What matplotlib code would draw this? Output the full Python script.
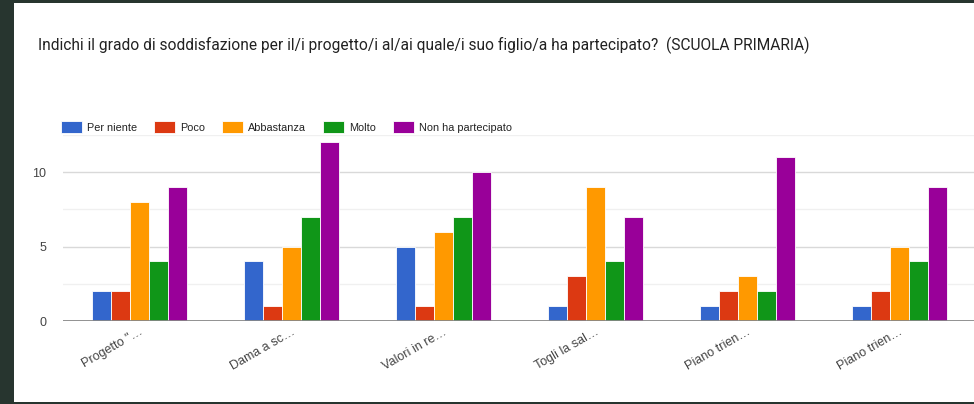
import matplotlib.pyplot as plt
import numpy as np
from matplotlib.patches import Rectangle

# dati
progetti = ['Progetto "…', 'Dama a sc…', 'Valori in re…', 'Togli la sal…',
            'Piano trien…', 'Piano trien…']
per_niente = [2, 4, 5, 1, 1, 1]
poco = [2, 1, 1, 3, 2, 2]
abbastanza = [8, 5, 6, 9, 3, 5]
molto = [4, 7, 7, 4, 2, 4]
non_partecipato = [9, 12, 10, 7, 11, 9]

serie = ['Per niente', 'Poco', 'Abbastanza', 'Molto', 'Non ha partecipato']
colori = ['#3366cc', '#dc3912', '#ff9900', '#109618', '#990099']
valori = [per_niente, poco, abbastanza, molto, non_partecipato]

W, H = 974, 404
fig = plt.figure(figsize=(W / 100, H / 100), dpi=100)
fig.patch.set_facecolor('#27352f')

# pannello bianco
fig.add_artist(Rectangle((14 / W, 2 / H), 1, (401 - 2) / H,
                         transform=fig.transFigure, facecolor='white',
                         edgecolor='none', zorder=0))

fig.text(38 / W, 1 - 45 / H,
         'Indichi il grado di soddisfazione per il/i progetto/i al/ai quale/i '
         'suo figlio/a ha partecipato?  (SCUOLA PRIMARIA)',
         family='Roboto', fontsize=11.2, color='#222222', va='center')

ax = fig.add_axes([63 / W, 1 - 321 / H, 912 / W, (321 - 135) / H])
ax.set_facecolor('none')

x = np.arange(len(progetti))
bw = 0.125
for i, (nome, col, v) in enumerate(zip(serie, colori, valori)):
    ax.bar(x + (i - 2) * bw, v, width=bw, color=col, label=nome,
           edgecolor='white', linewidth=0.6, zorder=3)

ax.set_xlim(-0.5, 5.5)
ax.set_ylim(0, 12.5)
ax.set_yticks([0, 5, 10])
ax.set_yticks([2.5, 7.5, 12.5], minor=True)
ax.grid(axis='y', which='major', color='#d9d9d9', linewidth=1, zorder=1)
ax.grid(axis='y', which='minor', color='#f0f0f0', linewidth=1, zorder=1)
ax.axhline(0, color='#888888', linewidth=2, zorder=4)
for s in ax.spines.values():
    s.set_visible(False)
ax.tick_params(axis='both', which='both', length=0)
ax.tick_params(axis='y', pad=12, labelsize=9, labelcolor='#444444')
ax.set_xticks(x)
ax.set_xticklabels(progetti, rotation=30, ha='right', rotation_mode='anchor',
                   fontsize=9, color='#444444', family='Liberation Sans')
for t in ax.get_yticklabels():
    t.set_family('Liberation Sans')

leg = fig.legend(*ax.get_legend_handles_labels(), loc='center left',
                 bbox_to_anchor=(61 / W, 1 - 127 / H),
                 bbox_transform=fig.transFigure, ncol=5, frameon=False,
                 handlelength=1.95, handleheight=1.4, handletextpad=0.46,
                 columnspacing=1.55, borderpad=0, borderaxespad=0,
                 prop={'family': 'Liberation Sans', 'size': 7.8})
for t in leg.get_texts():
    t.set_color('#222222')

fig.savefig('out.png', dpi=100, facecolor=fig.get_facecolor())
